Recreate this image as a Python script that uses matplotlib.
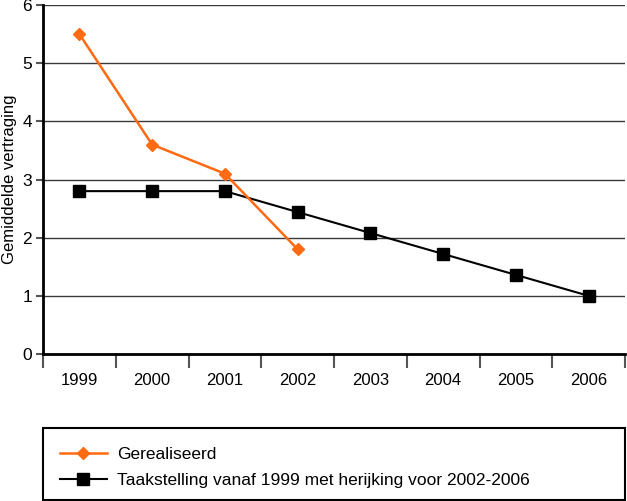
import matplotlib
matplotlib.use("Agg")
import matplotlib.pyplot as plt
from matplotlib.patches import Rectangle
import numpy as np

years = ["1999", "2000", "2001", "2002", "2003", "2004", "2005", "2006"]
gerealiseerd = [5.5, 3.6, 3.1, 1.8]
taakstelling = [2.8, 2.8, 2.8, 2.44, 2.08, 1.72, 1.36, 1.0]
label_real = "Gerealiseerd"
label_taak = "Taakstelling vanaf 1999 met herijking voor 2002-2006"
ylabel = "Gemiddelde vertraging"

plt.rcParams['font.family'] = ['Liberation Sans', 'DejaVu Sans']

orange = "#FF6A13"
fig = plt.figure(figsize=(6.27, 5.01), dpi=100)
ax = fig.add_axes([43/627, 1-354/501, (625-43)/627, (354-5)/501])

x = np.arange(len(years))
ax.plot(x[:len(gerealiseerd)], gerealiseerd, color=orange, lw=1.8, marker='D', ms=6.5,
        mfc=orange, mec=orange, zorder=4, label=label_real)
ax.plot(x, taakstelling, color='black', lw=1.5, marker='s', ms=9,
        mfc='black', mec='black', zorder=3, label=label_taak)

ax.set_xlim(-0.5, len(years)-0.5)
ax.set_ylim(0, 6)
ax.set_yticks(range(0, 7))
ax.yaxis.grid(True, color='#3a3a3a', lw=1.0)
ax.set_axisbelow(True)
ax.set_xticks(x)
ax.set_xticklabels(years)
ax.set_xticks(np.arange(-0.5, len(years)), minor=True)
ax.tick_params(axis='x', which='major', length=0, pad=14, labelsize=12)
ax.tick_params(axis='x', which='minor', length=10, width=1.5, color='#555555')
ax.tick_params(axis='y', length=5, width=1.5, color='#555555', labelsize=12.5, pad=3)
for s in ['top', 'right']:
    ax.spines[s].set_visible(False)
ax.spines['left'].set_linewidth(2)
ax.spines['bottom'].set_linewidth(2)
ax.set_ylabel(ylabel, fontsize=12)
ax.yaxis.set_label_coords((17 - 43) / 582, 0.5)

# legend box
fig.patches.append(Rectangle((43/627, 1/501), (625-43)/627, (500-428)/501,
                             transform=fig.transFigure, fill=False, ec='black', lw=1.5))
h, l = ax.get_legend_handles_labels()
fig.legend(h, l, loc='upper left', bbox_to_anchor=(53/627, 1-440/501), frameon=False,
           fontsize=12.5, handlelength=2.7, handletextpad=0.6, labelspacing=0.6,
           borderaxespad=0)

fig.savefig("out.png", dpi=100)
